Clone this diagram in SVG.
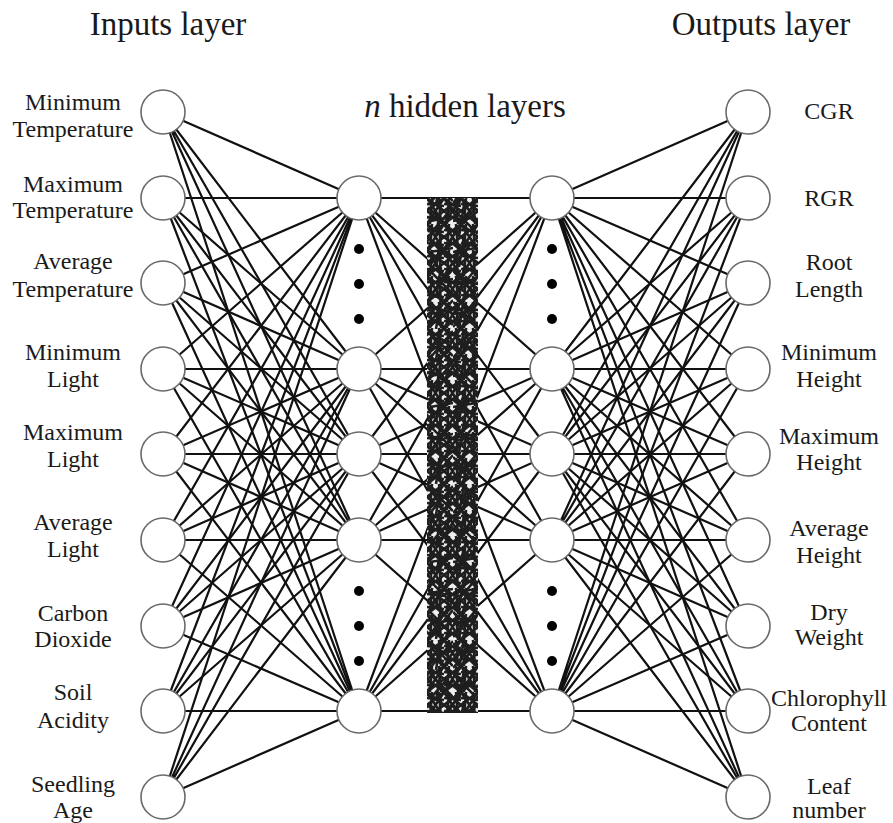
<svg xmlns="http://www.w3.org/2000/svg" width="893" height="823" viewBox="0 0 893 823">
  <style>
    .title { font-family: "Liberation Serif", "Times New Roman", serif; font-size: 33px; fill: #1a1a1a; text-anchor: middle; }
    .lbl { font-family: "Liberation Serif", "Times New Roman", serif; font-size: 24px; fill: #1a1a1a; text-anchor: middle; }
    .edge { fill: none; stroke: #111; stroke-width: 2.2; }
    .node circle { fill: #fff; stroke: #6a6a6a; stroke-width: 1.6; }
    .dot { fill: #000; }
    .mesh-line { fill: none; stroke: #1e1e1e; stroke-width: 2.6; }
  </style>
  <defs>
    <!-- dense tangle of connections inside the stacked hidden layers -->
    <pattern id="mesh" width="17" height="26" patternUnits="userSpaceOnUse" x="427" y="198">
      <rect width="17" height="26" fill="#eeeeee"/>
      <path class="mesh-line" d="M0 0L17 26M17 0L0 26M0 13L17 0M0 26L17 13M0 13L17 26M0 0L17 13M5 0L3 26M12 0L14 26M0 6L17 8M0 19L17 21"/>
    </pattern>
    <pattern id="mesh2" width="23" height="31" patternUnits="userSpaceOnUse" x="430" y="205">
      <path class="mesh-line" stroke-width="1.8" d="M0 4L23 27M23 2L0 29M11 0L6 31M0 16L23 12"/>
    </pattern>
  </defs>

  <rect width="893" height="823" fill="#fff"/>

  <!-- headings -->
  <text class="title" x="168" y="35">Inputs layer</text>
  <text class="title" x="761" y="35">Outputs layer</text>
  <text class="title" x="465" y="117"><tspan font-style="italic">n</tspan> hidden layers</text>

  <!-- connectors -->
  <g id="connectors">
    <!-- inputs to first hidden layer -->
    <path class="edge" d="M163 112L359 198M163 112L359 369M163 112L359 454M163 112L359 540M163 112L359 711"/>
    <path class="edge" d="M163 198L359 198M163 198L359 369M163 198L359 454M163 198L359 540M163 198L359 711"/>
    <path class="edge" d="M163 283L359 198M163 283L359 369M163 283L359 454M163 283L359 540M163 283L359 711"/>
    <path class="edge" d="M163 369L359 198M163 369L359 369M163 369L359 454M163 369L359 540M163 369L359 711"/>
    <path class="edge" d="M163 454L359 198M163 454L359 369M163 454L359 454M163 454L359 540M163 454L359 711"/>
    <path class="edge" d="M163 540L359 198M163 540L359 369M163 540L359 454M163 540L359 540M163 540L359 711"/>
    <path class="edge" d="M163 626L359 198M163 626L359 369M163 626L359 454M163 626L359 540M163 626L359 711"/>
    <path class="edge" d="M163 711L359 198M163 711L359 369M163 711L359 454M163 711L359 540M163 711L359 711"/>
    <path class="edge" d="M163 797L359 198M163 797L359 369M163 797L359 454M163 797L359 540M163 797L359 711"/>
    <!-- first hidden layer to last hidden layer -->
    <path class="edge" d="M359 198L552 198M359 198L552 369M359 198L552 454M359 198L552 540M359 198L552 711"/>
    <path class="edge" d="M359 369L552 198M359 369L552 369M359 369L552 454M359 369L552 540M359 369L552 711"/>
    <path class="edge" d="M359 454L552 198M359 454L552 369M359 454L552 454M359 454L552 540M359 454L552 711"/>
    <path class="edge" d="M359 540L552 198M359 540L552 369M359 540L552 454M359 540L552 540M359 540L552 711"/>
    <path class="edge" d="M359 711L552 198M359 711L552 369M359 711L552 454M359 711L552 540M359 711L552 711"/>
    <!-- last hidden layer to outputs -->
    <path class="edge" d="M552 198L748 112M552 198L748 198M552 198L748 283M552 198L748 369M552 198L748 454M552 198L748 540M552 198L748 626M552 198L748 711M552 198L748 797"/>
    <path class="edge" d="M552 369L748 112M552 369L748 198M552 369L748 283M552 369L748 369M552 369L748 454M552 369L748 540M552 369L748 626M552 369L748 711M552 369L748 797"/>
    <path class="edge" d="M552 454L748 112M552 454L748 198M552 454L748 283M552 454L748 369M552 454L748 454M552 454L748 540M552 454L748 626M552 454L748 711M552 454L748 797"/>
    <path class="edge" d="M552 540L748 112M552 540L748 198M552 540L748 283M552 540L748 369M552 540L748 454M552 540L748 540M552 540L748 626M552 540L748 711M552 540L748 797"/>
    <path class="edge" d="M552 711L748 112M552 711L748 198M552 711L748 283M552 711L748 369M552 711L748 454M552 711L748 540M552 711L748 626M552 711L748 711M552 711L748 797"/>
  </g>

  <!-- stacked hidden layers -->
  <g id="hidden-stack">
    <rect x="427" y="198" width="51" height="515" fill="url(#mesh)"/>
    <rect x="427" y="198" width="51" height="515" fill="url(#mesh2)"/>
  </g>

  <!-- input layer -->
  <g id="in-min-temp" class="node"><circle cx="163" cy="112" r="22"/>
    <text class="lbl" x="73" y="110">Minimum</text><text class="lbl" x="73" y="137">Temperature</text></g>
  <g id="in-max-temp" class="node"><circle cx="163" cy="198" r="22"/>
    <text class="lbl" x="73" y="192">Maximum</text><text class="lbl" x="73" y="218">Temperature</text></g>
  <g id="in-avg-temp" class="node"><circle cx="163" cy="283" r="22"/>
    <text class="lbl" x="73" y="269">Average</text><text class="lbl" x="73" y="297">Temperature</text></g>
  <g id="in-min-light" class="node"><circle cx="163" cy="369" r="22"/>
    <text class="lbl" x="73" y="360">Minimum</text><text class="lbl" x="73" y="387">Light</text></g>
  <g id="in-max-light" class="node"><circle cx="163" cy="454" r="22"/>
    <text class="lbl" x="73" y="440">Maximum</text><text class="lbl" x="73" y="467">Light</text></g>
  <g id="in-avg-light" class="node"><circle cx="163" cy="540" r="22"/>
    <text class="lbl" x="73" y="530">Average</text><text class="lbl" x="73" y="557">Light</text></g>
  <g id="in-co2" class="node"><circle cx="163" cy="626" r="22"/>
    <text class="lbl" x="73" y="621">Carbon</text><text class="lbl" x="73" y="647">Dioxide</text></g>
  <g id="in-acidity" class="node"><circle cx="163" cy="711" r="22"/>
    <text class="lbl" x="73" y="700">Soil</text><text class="lbl" x="73" y="728">Acidity</text></g>
  <g id="in-age" class="node"><circle cx="163" cy="797" r="22"/>
    <text class="lbl" x="73" y="792">Seedling</text><text class="lbl" x="73" y="818">Age</text></g>

  <!-- first hidden layer -->
  <g id="h1-1" class="node"><circle cx="359" cy="198" r="22"/></g>
  <g id="h1-2" class="node"><circle cx="359" cy="369" r="22"/></g>
  <g id="h1-3" class="node"><circle cx="359" cy="454" r="22"/></g>
  <g id="h1-4" class="node"><circle cx="359" cy="540" r="22"/></g>
  <g id="h1-5" class="node"><circle cx="359" cy="711" r="22"/></g>
  <g id="h1-ellipsis">
    <circle class="dot" cx="359" cy="249" r="5"/><circle class="dot" cx="359" cy="284" r="5"/><circle class="dot" cx="359" cy="319" r="5"/>
    <circle class="dot" cx="359" cy="591" r="5"/><circle class="dot" cx="359" cy="626" r="5"/><circle class="dot" cx="359" cy="661" r="5"/>
  </g>

  <!-- last hidden layer -->
  <g id="h2-1" class="node"><circle cx="552" cy="198" r="22"/></g>
  <g id="h2-2" class="node"><circle cx="552" cy="369" r="22"/></g>
  <g id="h2-3" class="node"><circle cx="552" cy="454" r="22"/></g>
  <g id="h2-4" class="node"><circle cx="552" cy="540" r="22"/></g>
  <g id="h2-5" class="node"><circle cx="552" cy="711" r="22"/></g>
  <g id="h2-ellipsis">
    <circle class="dot" cx="552" cy="249" r="5"/><circle class="dot" cx="552" cy="284" r="5"/><circle class="dot" cx="552" cy="319" r="5"/>
    <circle class="dot" cx="552" cy="591" r="5"/><circle class="dot" cx="552" cy="626" r="5"/><circle class="dot" cx="552" cy="661" r="5"/>
  </g>

  <!-- output layer -->
  <g id="out-cgr" class="node"><circle cx="748" cy="112" r="22"/>
    <text class="lbl" x="829" y="119">CGR</text></g>
  <g id="out-rgr" class="node"><circle cx="748" cy="198" r="22"/>
    <text class="lbl" x="829" y="206">RGR</text></g>
  <g id="out-root" class="node"><circle cx="748" cy="283" r="22"/>
    <text class="lbl" x="829" y="270">Root</text><text class="lbl" x="829" y="297">Length</text></g>
  <g id="out-min-height" class="node"><circle cx="748" cy="369" r="22"/>
    <text class="lbl" x="829" y="360">Minimum</text><text class="lbl" x="829" y="387">Height</text></g>
  <g id="out-max-height" class="node"><circle cx="748" cy="454" r="22"/>
    <text class="lbl" x="829" y="444">Maximum</text><text class="lbl" x="829" y="470">Height</text></g>
  <g id="out-avg-height" class="node"><circle cx="748" cy="540" r="22"/>
    <text class="lbl" x="829" y="536">Average</text><text class="lbl" x="829" y="563">Height</text></g>
  <g id="out-dry-weight" class="node"><circle cx="748" cy="626" r="22"/>
    <text class="lbl" x="829" y="620">Dry</text><text class="lbl" x="829" y="645">Weight</text></g>
  <g id="out-chlorophyll" class="node"><circle cx="748" cy="711" r="22"/>
    <text class="lbl" x="829" y="706">Chlorophyll</text><text class="lbl" x="829" y="731">Content</text></g>
  <g id="out-leaf" class="node"><circle cx="748" cy="797" r="22"/>
    <text class="lbl" x="829" y="794">Leaf</text><text class="lbl" x="829" y="818">number</text></g>
</svg>
